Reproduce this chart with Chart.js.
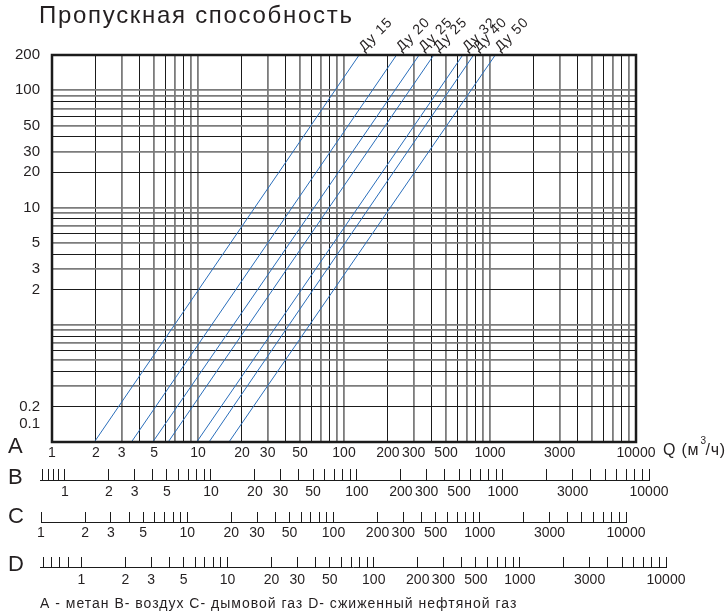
<!DOCTYPE html>
<html>
<head>
<meta charset="utf-8">
<script src="https://cdn.jsdelivr.net/npm/chart.js@4.4.1/dist/chart.umd.min.js"></script>
<style>
  html, body { margin: 0; padding: 0; background: #fff; }
  #wrap { position: relative; width: 728px; height: 612px; overflow: hidden; background: #fff; }
  canvas { position: absolute; left: 0; }
</style>
</head>
<body>
<div id="wrap">
  <canvas id="main" width="728" height="612" style="top:0"></canvas>
  <canvas id="axisB" width="728" height="40" style="top:466px"></canvas>
  <canvas id="axisC" width="728" height="40" style="top:509px"></canvas>
  <canvas id="axisD" width="728" height="40" style="top:554px"></canvas>
</div>
<script>
const seriesNames = ['Ду 15', 'Ду 20', 'Ду 25', 'Ду 25', 'Ду 32', 'Ду 40', 'Ду 50'];
// flow Q (m3/h) where each line leaves the bottom (dp = 0.1) and the top (dp = 200) of the grid
const qAtBottom = [1.95, 3.5, 4.9, 6.25, 9.8, 11.9, 16.3];
const qAtTop = [127, 229, 327, 412, 651, 772, 1087];
const dpEnds = [0.1, 200];

const qLabels = [1, 2, 3, 5, 10, 20, 30, 50, 100, 200, 300, 500, 1000, 3000, 10000];
const dpLabels = [200, 100, 50, 30, 20, 10, 5, 3, 2, 0.2, 0.1];
const extraTicksB = [0.7, 0.77, 0.84, 0.91];
const extraTicksC = [];
const extraTicksD = [0.55, 0.62, 0.71, 0.81];
const mantissas = [1, 2, 3, 4, 5, 6, 7, 8, 9];

const BLACK = '#1b1b1b', GREY = '#7c7c7c', BLUE = '#2a6ebb', TEXT = '#231f20';
const FONT = '"Liberation Sans", Arial, sans-serif';

Chart.defaults.font.family = FONT;
Chart.defaults.color = TEXT;

function logTicks(minExp, maxExp, maxVal) {
  const out = [];
  for (let k = minExp; k <= maxExp; k++) {
    mantissas.forEach(m => {
      const v = +(m + 'e' + k);
      if (v <= maxVal) out.push(v);
    });
  }
  return out;
}

function mant(v) {
  return Math.round(v / Math.pow(10, Math.floor(Math.log10(v) + 1e-9)));
}
function gridColor(ctx) {
  if (!ctx.tick) return BLACK;
  return mant(ctx.tick.value) % 2 === 0 ? BLACK : GREY;
}
function gridWidth(ctx) {
  if (!ctx.tick) return 1;
  return mant(ctx.tick.value) % 2 === 0 ? 1 : 1.8;
}

const framePlugin = {
  id: 'frame',
  afterDatasetsDraw(chart) {
    const { ctx, chartArea: a } = chart;
    ctx.save();
    ctx.strokeStyle = BLACK;
    ctx.lineWidth = 2.5;
    ctx.strokeRect(a.left, a.top, a.right - a.left, a.bottom - a.top);
    ctx.restore();
  }
};

const textPlugin = {
  id: 'texts',
  afterDraw(chart) {
    const { ctx, chartArea: a } = chart;
    const xs = chart.scales.x;
    ctx.save();
    ctx.fillStyle = TEXT;

    // title
    ctx.font = '24px ' + FONT;
    ctx.letterSpacing = '1.7px';
    ctx.textAlign = 'left';
    ctx.textBaseline = 'alphabetic';
    ctx.fillText('Пропускная способность', 39, 23);

    // Ду labels at the top end of each line
    ctx.font = '14px ' + FONT;
    ctx.letterSpacing = '1px';
    seriesNames.forEach((name, i) => {
      const x = xs.getPixelForValue(qAtTop[i]);
      ctx.save();
      ctx.translate(x + 5, a.top - 3);
      ctx.rotate(-Math.PI / 4);
      ctx.fillText(name, 0, 0);
      ctx.restore();
    });
    ctx.letterSpacing = '0px';

    // gas letters
    ctx.font = '22px ' + FONT;
    ctx.textBaseline = 'middle';
    [['A', 447], ['B', 478], ['C', 517], ['D', 565]].forEach(([t, y]) => ctx.fillText(t, 8, y));

    // unit
    ctx.font = '16px ' + FONT;
    ctx.letterSpacing = '0.8px';
    ctx.fillText('Q (м', 663, 451);
    const w = ctx.measureText('Q (м').width;
    ctx.font = '10px ' + FONT;
    ctx.fillText('3', 663 + w + 1, 441);
    ctx.font = '16px ' + FONT;
    ctx.fillText('/ч)', 663 + w + 6, 451);

    // footnote
    ctx.font = '14px ' + FONT;
    ctx.letterSpacing = '1px';
    ctx.fillText('A - метан B- воздух C- дымовой газ D- сжиженный нефтяной газ', 40, 604);
    ctx.restore();
  }
};

new Chart(document.getElementById('main'), {
  type: 'scatter',
  data: {
    datasets: seriesNames.map((name, i) => ({
      label: name,
      data: [{ x: qAtBottom[i], y: dpEnds[0] }, { x: qAtTop[i], y: dpEnds[1] }],
      showLine: true,
      borderColor: BLUE,
      borderWidth: 1,
      pointRadius: 0,
      fill: false
    }))
  },
  options: {
    responsive: false,
    animation: false,
    layout: { padding: { top: 55, right: 92, bottom: 150, left: 0 } },
    plugins: { legend: { display: false }, tooltip: { enabled: false } },
    scales: {
      x: {
        type: 'logarithmic', min: 1, max: 10000,
        afterBuildTicks: s => { s.ticks = logTicks(0, 4, 10000).map(v => ({ value: v })); },
        afterFit: s => { s.height = 20; },
        grid: { color: gridColor, lineWidth: gridWidth, drawTicks: false },
        border: { display: false },
        ticks: {
          autoSkip: false, maxRotation: 0, padding: 3, color: TEXT, font: { size: 14 },
          callback: v => qLabels.includes(v) ? String(v) : ''
        }
      },
      y: {
        type: 'logarithmic', min: 0.1, max: 200,
        afterBuildTicks: s => { s.ticks = logTicks(-1, 2, 200).map(v => ({ value: v })); },
        afterFit: s => { s.width = 52; },
        grid: { color: gridColor, lineWidth: gridWidth, drawTicks: false },
        border: { display: false },
        ticks: {
          autoSkip: false, padding: 12, color: TEXT, font: { size: 15 },
          // 0.1 sits on the bottom edge; extra empty lines lift it above the "A"
          callback: v => v === 0.1 ? ['0.1', '', ''] : (dpLabels.includes(v) ? String(v) : '')
        }
      }
    }
  },
  plugins: [framePlugin, textPlugin]
});

function qAxis(id, extra, min, left, right, areaTop, tickLen, labelPad) {
  new Chart(document.getElementById(id), {
    type: 'scatter',
    data: { datasets: [] },
    options: {
      responsive: false,
      animation: false,
      layout: { padding: { left: left, right: 728 - right, top: areaTop, bottom: 0 } },
      plugins: { legend: { display: false }, tooltip: { enabled: false } },
      scales: {
        x: {
          type: 'logarithmic', min: min, max: 10000,
          afterBuildTicks: s => { s.ticks = extra.concat(logTicks(0, 4, 10000)).map(v => ({ value: v })); },
          afterFit: s => { s.height = 40 - areaTop - tickLen; },
          grid: { drawOnChartArea: true, drawTicks: false, color: BLACK, lineWidth: 1 },
          border: { display: true, color: BLACK, width: 1 },
          ticks: {
            autoSkip: false, maxRotation: 0, padding: labelPad, color: TEXT, font: { size: 14 },
            callback: v => qLabels.includes(v) ? String(v) : ''
          }
        },
        y: { display: false, min: 0, max: 1 }
      }
    }
  });
}

qAxis('axisB', extraTicksB, 0.675, 40, 649, 3, 11, 4);
qAxis('axisC', extraTicksC, 1, 41, 626, 3, 10, 3);
qAxis('axisD', extraTicksD, 0.52, 40, 666, 3, 10, 5);
</script>
</body>
</html>
